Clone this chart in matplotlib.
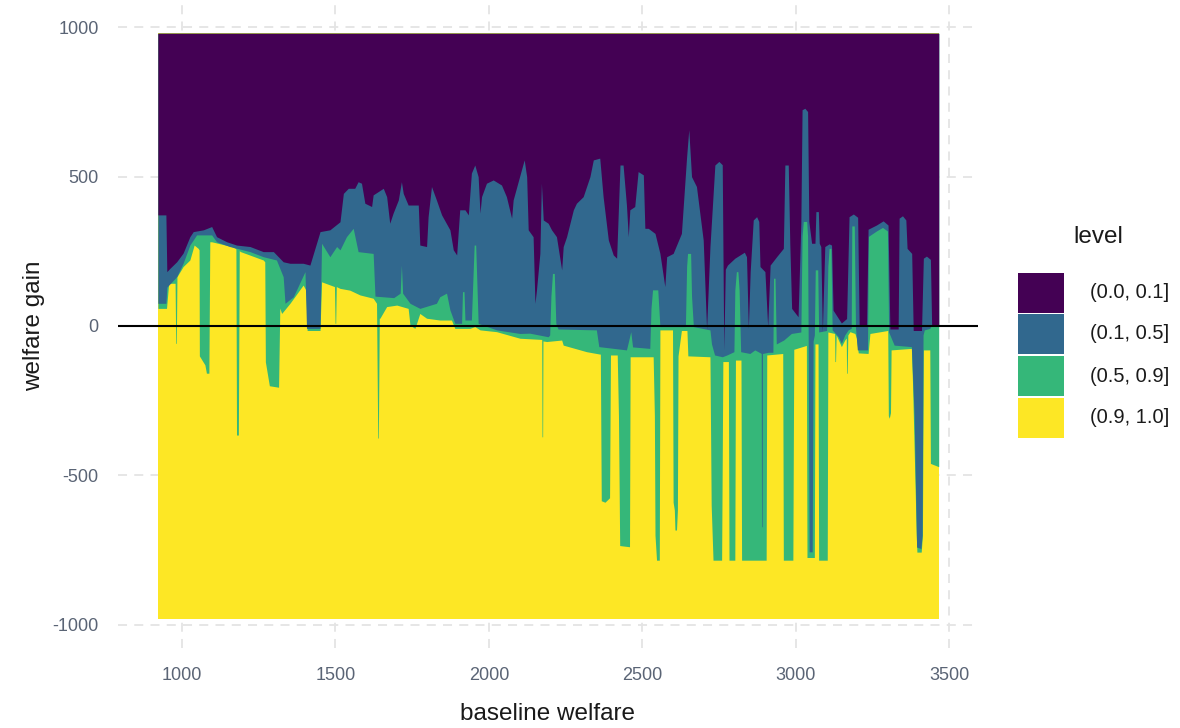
import matplotlib
matplotlib.use("Agg")
import matplotlib.pyplot as plt
from matplotlib.patches import Rectangle

plt.rcParams['font.family'] = ['Liberation Sans', 'DejaVu Sans']
plt.rcParams['axes.unicode_minus'] = False

# boundary between (0.0, 0.1] and (0.1, 0.5]
upper_x = [922, 948, 951, 961, 983, 1004, 1026, 1037, 1070, 1097, 1113, 1146, 1178, 1222, 1265,
           1298, 1330, 1352, 1395, 1417, 1450, 1482, 1515, 1526, 1542, 1563, 1574, 1585, 1596,
           1618, 1623, 1656, 1667, 1677, 1688, 1705, 1715, 1721, 1737, 1770, 1775, 1797, 1802,
           1813, 1829, 1846, 1873, 1884, 1895, 1905, 1922, 1933, 1943, 1954, 1965, 1971, 1976,
           1992, 2014, 2041, 2057, 2074, 2079, 2106, 2115, 2123, 2128, 2144, 2150, 2155, 2166,
           2171, 2177, 2193, 2204, 2220, 2237, 2242, 2253, 2275, 2285, 2307, 2329, 2340, 2361,
           2372, 2389, 2405, 2416, 2427, 2437, 2448, 2454, 2459, 2475, 2486, 2503, 2508, 2519,
           2541, 2557, 2573, 2579, 2600, 2627, 2644, 2651, 2660, 2676, 2698, 2709, 2720, 2736,
           2749, 2760, 2765, 2770, 2777, 2801, 2832, 2839, 2845, 2851, 2861, 2872, 2879, 2883,
           2899, 2908, 2916, 2937, 2959, 2964, 2975, 2980, 2986, 3007, 3016, 3020, 3029, 3038,
           3042, 3051, 3062, 3065, 3073, 3076, 3081, 3086, 3094, 3108, 3116, 3121, 3148, 3165,
           3173, 3187, 3201, 3206, 3230, 3235, 3262, 3284, 3300, 3306, 3333, 3336, 3347, 3358,
           3362, 3377, 3382, 3409, 3415, 3425, 3438, 3442, 3465]
upper_y = [372, 372, 182, 193, 215, 244, 299, 316, 322, 333, 299, 282, 271, 266, 249,
           249, 215, 210, 210, 204, 316, 322, 349, 444, 461, 461, 483, 478, 411,
           400, 439, 461, 433, 344, 378, 422, 483, 444, 405, 405, 271, 266, 366,
           467, 422, 372, 322, 255, 238, 389, 389, 372, 512, 539, 500, 378, 433,
           478, 489, 472, 433, 361, 422, 523, 556, 500, 322, 299, 76, 121, 243,
           478, 355, 344, 322, 299, 188, 266, 299, 389, 411, 433, 500, 556, 562,
           433, 288, 238, 227, 539, 539, 405, 299, 389, 400, 517, 506, 327, 327,
           310, 243, 132, 232, 243, 310, 567, 657, 500, 467, 288, -10, 266, 539,
           551, 540, -80, 190, 204, 227, 247, 232, -8, 182, 355, 366, 350, 199,
           182, -2, 204, 232, 260, 539, 539, 277, 59, 31, 344, 724, 729, 718,
           350, 277, 277, 383, 383, 277, 266, -19, 266, 275, 271, 53, 10, 25,
           366, 375, 364, 0, 0, 324, 338, 352, 338, -10, -10, 361, 369, 355,
           260, 243, -15, -15, 227, 234, 223, 3, 3]

# boundary between (0.1, 0.5] and (0.5, 0.9]
mid_x = [922, 948, 951, 983, 1004, 1026, 1048, 1097, 1113, 1156, 1222, 1265, 1308, 1330, 1336,
         1363, 1401, 1406, 1450, 1455, 1482, 1504, 1515, 1536, 1558, 1574, 1623, 1629, 1690,
         1711, 1715, 1719, 1743, 1775, 1829, 1840, 1862, 1873, 1889, 1911, 1914, 1919, 1922,
         1943, 1952, 1957, 1965, 2025, 2101, 2133, 2193, 2198, 2202, 2207, 2213, 2218, 2225,
         2350, 2358, 2448, 2455, 2462, 2468, 2524, 2528, 2533, 2550, 2557, 2640, 2644, 2647,
         2657, 2660, 2666, 2720, 2725, 2735, 2760, 2775, 2798, 2801, 2806, 2811, 2815, 2820,
         2850, 2866, 2884, 2887, 2888, 2890, 2891, 2910, 2925, 2927, 2932, 2936, 2960, 2985,
         3016, 3020, 3024, 3035, 3038, 3040, 3043, 3053, 3056, 3060, 3063, 3071, 3074, 3100,
         3104, 3108, 3114, 3118, 3138, 3148, 3159, 3170, 3180, 3182, 3190, 3194, 3200, 3233,
         3236, 3262, 3282, 3298, 3302, 3320, 3376, 3385, 3393, 3407, 3411, 3414, 3418, 3436,
         3440, 3465]
mid_y = [76, 76, 130, 165, 210, 271, 305, 305, 282, 266, 249, 232, 221, 165, 76,
         98, 182, -8, -8, 277, 232, 266, 255, 299, 327, 249, 243, 100, 95,
         110, 204, 110, 76, 59, 76, 98, 110, 54, 9, 9, 115, 115, 20,
         20, 271, 271, 9, -13, -25, -24, -36, -30, 100, 176, 176, 9, -10,
         -13, -69, -80, -50, -19, -70, -75, 60, 121, 121, -2, -2, 200, 243,
         243, 100, -2, -13, -60, -97, -103, -97, -86, 120, 182, 182, 120, -86,
         -92, -80, -90, -92, -672, -672, -92, -88, -88, 160, 160, -60, -47, -25,
         -20, 300, 350, 350, 300, -60, -756, -756, -50, -30, 188, 188, -20, -15,
         200, 260, 260, -13, -36, -58, -30, -13, -8, 335, 335, -5, -80, -80,
         300, 318, 330, 318, -20, -64, -69, -300, -740, -745, -700, -30, -13, -8,
         0, 0]

# boundary between (0.5, 0.9] and (0.9, 1.0]
low_x = [922, 950, 957, 978, 980, 982, 984, 1004, 1026, 1040, 1053, 1056, 1057, 1075, 1080,
         1088, 1091, 1097, 1162, 1174, 1176, 1178, 1184, 1187, 1191, 1265, 1270, 1272, 1285,
         1315, 1319, 1325, 1352, 1395, 1404, 1408, 1450, 1455, 1497, 1499, 1501, 1503, 1515,
         1547, 1580, 1623, 1634, 1638, 1640, 1643, 1645, 1667, 1700, 1737, 1743, 1759, 1775,
         1797, 1840, 1878, 1889, 1938, 1954, 1971, 2025, 2101, 2172, 2173, 2175, 2176, 2188,
         2237, 2242, 2318, 2361, 2363, 2366, 2378, 2393, 2396, 2418, 2422, 2426, 2458, 2460,
         2535, 2539, 2541, 2546, 2555, 2557, 2598, 2600, 2604, 2606, 2611, 2614, 2616, 2627,
         2645, 2648, 2720, 2724, 2730, 2758, 2762, 2780, 2782, 2801, 2803, 2821, 2823, 2903,
         2905, 2957, 2959, 2990, 2993, 3034, 3036, 3060, 3062, 3072, 3074, 3102, 3104, 3126,
         3127, 3129, 3131, 3148, 3159, 3164, 3165, 3167, 3169, 3176, 3192, 3197, 3203, 3235,
         3241, 3299, 3301, 3304, 3308, 3310, 3376, 3380, 3392, 3394, 3408, 3412, 3415, 3436,
         3438, 3465]
low_y = [59, 59, 143, 143, -58, -58, 165, 199, 221, 271, 260, 255, -100, -130, -158,
         -158, 282, 282, 266, 260, 258, -365, -365, 252, 249, 221, 215, -120, -200,
         -205, 60, 42, 76, 137, 120, -15, -15, 148, 132, 9, 9, 132, 126,
         120, 104, 93, 76, -375, -375, 26, 26, 65, 70, 59, 3, -8, 42,
         26, 20, 20, -8, -8, -2, -13, -19, -41, -45, -371, -371, -50, -52,
         -47, -64, -86, -94, -94, -585, -590, -575, -97, -97, -300, -735, -739, -103,
         -103, -300, -700, -784, -784, -13, -13, -590, -616, -683, -683, -616, -100, -15,
         -15, -100, -103, -600, -784, -784, -119, -119, -784, -784, -114, -114, -784, -784,
         -97, -92, -784, -784, -78, -65, -775, -775, -60, -60, -784, -784, -20, -25,
         -119, -119, -30, -69, -47, -40, -158, -158, -30, -19, -25, -40, -90, -92,
         -25, -15, -300, -309, -290, -80, -75, -200, -700, -757, -757, -700, -80, -80,
         -460, -471]

y_top, y_bottom = 980, -980
levels = ['(0.0, 0.1]', '(0.1, 0.5]', '(0.5, 0.9]', '(0.9, 1.0]']
colors = ['#440154', '#31688E', '#35B779', '#FDE725']

fig = plt.figure(figsize=(11.8, 7.28), dpi=100)
ax = fig.add_axes([118 / 1180, 1 - 648 / 728, 860 / 1180, 644 / 728])

# layers from bottom to top
ax.fill_between([low_x[0], low_x[-1]], y_bottom, y_top, color=colors[3], lw=0, zorder=2)
ax.fill_between(low_x, low_y, y_top, color=colors[2], lw=0, zorder=3)
ax.fill_between(mid_x, mid_y, y_top, color=colors[1], lw=0, zorder=4)
ax.fill_between(upper_x, upper_y, y_top, color=colors[0], lw=0, zorder=5)

ax.axhline(0, color='black', lw=1.5, zorder=6)

ax.set_xlim(792, 3593)
ax.set_ylim(-1078, 1078)
ax.set_xticks([1000, 1500, 2000, 2500, 3000, 3500])
ax.set_yticks([-1000, -500, 0, 500, 1000])
ax.grid(True, color='#e4e4e4', linestyle=(0, (5, 4)), lw=1.3)
ax.set_axisbelow(True)
for s in ax.spines.values():
    s.set_visible(False)
ax.tick_params(length=0, labelsize=13, labelcolor='#5a6475')
ax.tick_params(axis='y', pad=14)
ax.tick_params(axis='x', pad=14)
ax.set_xlabel('baseline welfare', fontsize=17.5, color='#1a1a1a', labelpad=13)
ax.set_ylabel('welfare gain', fontsize=17.5, color='#1a1a1a', labelpad=5)

# legend
fig.text(1073 / 1180, 1 - 237 / 728, 'level', fontsize=17.5, color='#1a1a1a',
         ha='left', va='center')
box_tops = [273, 314, 356, 398]
for top, lab, col in zip(box_tops, levels, colors):
    fig.add_artist(Rectangle((1018 / 1180, 1 - (top + 40) / 728), 46 / 1180, 40 / 728,
                             transform=fig.transFigure, facecolor=col, edgecolor='none'))
    fig.text(1090 / 1180, 1 - (top + 20) / 728, lab, fontsize=14.5, color='#1a1a1a',
             ha='left', va='center')

fig.savefig('out.png', dpi=100)
